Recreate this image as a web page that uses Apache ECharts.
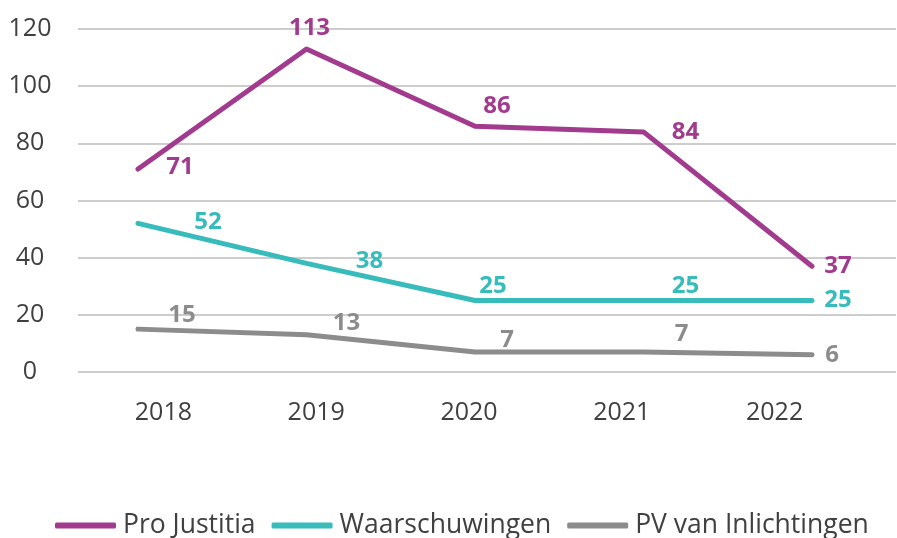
<!DOCTYPE html>
<html>
<head>
<meta charset="utf-8">
<script src="https://cdn.jsdelivr.net/npm/echarts@6/dist/echarts.min.js"></script>
<style>html,body{margin:0;padding:0;background:#fff;}#c{width:897px;height:538px;}</style>
</head>
<body>
<div id="c"></div>
<script>
const years = ['2018', '2019', '2020', '2021', '2022'];
const proJustitia = [71, 113, 86, 84, 37];
const waarschuwingen = [52, 38, 25, 25, 25];
const pvInlichtingen = [15, 13, 7, 7, 6];
const seriesNames = ['Pro Justitia', 'Waarschuwingen', 'PV van Inlichtingen'];

const colors = ['#A23B8E', '#38BBBB', '#8C8C8C'];
const FONT = 'Open Sans';
// label offsets (dx, dy) per point, per series
const offsets = [
  [[42, -2], [3, -21], [22, -20], [42, 0], [26, 0]],
  [[70, -1], [63, -2], [18, -14], [42, -14], [26, 0]],
  [[44, -14], [40, -12], [32, -12], [38, -18], [20, 0]]
];
const allData = [proJustitia, waarschuwingen, pvInlichtingen];

const chart = echarts.init(document.getElementById('c'), null, {renderer: 'canvas'});
const series = allData.map((vals, si) => ({
  name: seriesNames[si],
  type: 'line',
  xAxisIndex: 1,
  yAxisIndex: 1,
  data: vals.map((v, i) => ({
    value: v,
    label: {offset: offsets[si][i]}
  })),
  symbol: 'circle',
  symbolSize: 0.1,
  showSymbol: true,
  lineStyle: {width: 5, color: colors[si], cap: 'round', join: 'round'},
  itemStyle: {color: colors[si]},
  label: {
    show: true,
    position: 'inside',
    color: colors[si],
    fontFamily: FONT,
    fontWeight: 'bold',
    fontSize: 24
  },
  emphasis: {disabled: true},
  animation: false
}));

chart.setOption({
  animation: false,
  color: colors,
  grid: [
    {left: 78, right: 1, top: 29, bottom: 166},
    {left: 138, right: 85, top: 29, bottom: 166},
    {left: 87, right: 46, top: 29, bottom: 166}
  ],
  xAxis: [
    {type: 'category', gridIndex: 0, data: years, show: false},
    {type: 'category', gridIndex: 1, data: years, boundaryGap: false, show: false},
    {type: 'category', gridIndex: 2, data: years, boundaryGap: true,
     axisLine: {show: false}, axisTick: {show: false},
     axisLabel: {color: '#404040', fontFamily: FONT, fontSize: 25, margin: 28}}
  ],
  yAxis: [
    {type: 'value', gridIndex: 0, min: 0, max: 120, interval: 20,
     axisLine: {show: false}, axisTick: {show: false},
     axisLabel: {color: '#404040', fontFamily: FONT, fontSize: 25, align: 'center', margin: 48},
     splitLine: {lineStyle: {color: '#BDBDBD', width: 1.5}}},
    {type: 'value', gridIndex: 1, min: 0, max: 120, interval: 20, show: false, splitLine: {show: false}},
    {type: 'value', gridIndex: 2, min: 0, max: 120, interval: 20, show: false, splitLine: {show: false}}
  ],
  legend: {
    top: 507,
    left: 50,
    padding: [5, 5, 5, 5],
    icon: 'roundRect',
    itemWidth: 61,
    itemHeight: 6,
    itemGap: 16,
    textStyle: {color: '#404040', fontFamily: FONT, fontSize: 26.5, padding: [0, 0, 0, 2]},
    data: seriesNames
  },
  series: series
});
</script>
</body>
</html>
